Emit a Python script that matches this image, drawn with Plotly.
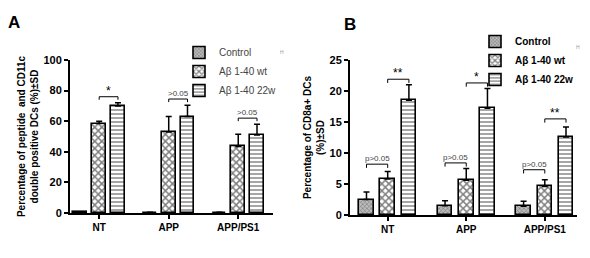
import plotly.graph_objects as go

groups = ["NT", "APP", "APP/PS1"]
series = ["Control", "Aβ 1-40 wt", "Aβ 1-40 22w"]

# Panel A: percentage of peptide and CD11c double positive DCs
a_vals = {
    "Control": [0.5, 0.3, 0.3],
    "Aβ 1-40 wt": [58.5, 53.0, 43.5],
    "Aβ 1-40 22w": [70.0, 63.0, 51.0],
}
a_err = {
    "Control": [0.3, 0.2, 0.2],
    "Aβ 1-40 wt": [1.5, 10.0, 8.0],
    "Aβ 1-40 22w": [2.0, 7.5, 7.0],
}
# Panel B: percentage of CD8a+ DCs
b_vals = {
    "Control": [2.5, 1.5, 1.4],
    "Aβ 1-40 wt": [5.8, 5.6, 4.6],
    "Aβ 1-40 22w": [18.5, 17.2, 12.6],
}
b_err = {
    "Control": [1.2, 0.8, 0.8],
    "Aβ 1-40 wt": [1.2, 1.9, 1.1],
    "Aβ 1-40 22w": [2.5, 3.2, 1.6],
}
# significance brackets: (panel, group index, bar i, bar j, bracket y, label)
brackets = [
    ("A", 0, 1, 2, 76, "*"),
    ("A", 1, 1, 2, 74.5, ">0.05"),
    ("A", 2, 1, 2, 62, ">0.05"),
    ("B", 0, 1, 2, 21.9, "**"),
    ("B", 0, 0, 1, 8.2, "p>0.05"),
    ("B", 1, 1, 2, 21.3, "*"),
    ("B", 1, 0, 1, 8.4, "p>0.05"),
    ("B", 2, 1, 2, 15.5, "**"),
    ("B", 2, 0, 1, 7.3, "p>0.05"),
]

FONT = "Arial, Liberation Sans, sans-serif"
W, H = 590, 258
offsets = [-0.27, 0.0, 0.27]
patterns = {
    "Control": dict(shape="x", size=3, solidity=0.35, fgcolor="#333333", bgcolor="#bbbbbb"),
    "Aβ 1-40 wt": dict(shape="x", size=5, solidity=0.5, fgcolor="black", bgcolor="white"),
    "Aβ 1-40 22w": dict(shape="-", size=4, solidity=0.35, fgcolor="black", bgcolor="white"),
}

fig = go.Figure()

def add_panel(vals, errs, xa, ya, legend, width):
    for k, s in enumerate(series):
        fig.add_trace(go.Bar(
            x=[g + offsets[k] for g in range(len(groups))],
            y=vals[s],
            width=width,
            name=s,
            xaxis=xa, yaxis=ya, legend=legend,
            marker=dict(color="white", line=dict(color="black", width=1.6), pattern=patterns[s]),
            error_y=dict(type="data", array=errs[s], arrayminus=[0] * len(groups), symmetric=False,
                         color="black", thickness=1.5, width=3),
        ))

add_panel(a_vals, a_err, "x", "y", "legend", 0.2)
add_panel(b_vals, b_err, "x2", "y2", "legend2", 0.185)

shapes = []
annotations = []
for panel, g, i, j, yv, label in brackets:
    xr, yr = ("x", "y") if panel == "A" else ("x2", "y2")
    drop = 2.0 if panel == "A" else 0.6
    x0 = g + offsets[i]
    x1 = g + offsets[j]
    shapes.append(dict(type="path", xref=xr, yref=yr,
                       path=f"M {x0} {yv - drop} L {x0} {yv} L {x1} {yv} L {x1} {yv - drop}",
                       line=dict(color="black", width=1)))
    small = label.startswith(">") or label.startswith("p")
    annotations.append(dict(x=(x0 + x1) / 2, y=yv, xref=xr, yref=yr, text=label, showarrow=False,
                            yanchor="bottom", yshift=-3 if not small else -1,
                            font=dict(family=FONT, size=8 if small else 12,
                                      color="#444" if small else "black")))

def paper_text(x, y, text, size, color="black"):
    annotations.append(dict(x=x / W, y=1 - y / H, xref="paper", yref="paper", text=text,
                            xanchor="center", yanchor="middle", showarrow=False,
                            font=dict(family=FONT, size=size, color=color)))

paper_text(14, 22, "<b>A</b>", 17)
paper_text(350, 25, "<b>B</b>", 17)
paper_text(282, 52, "H", 5, "#999")
paper_text(578, 47, "H", 5, "#999")

axis_common = dict(showline=True, linecolor="black", linewidth=2, ticks="outside", tickcolor="black",
                   tickwidth=1.5, ticklen=4, showgrid=False, zeroline=False, automargin=False,
                   tickfont=dict(family=FONT, size=11, color="black"))
xfont = dict(family=FONT, size=10, color="black")

fig.update_layout(
    width=W, height=H, margin=dict(l=0, r=0, t=0, b=0, autoexpand=False),
    paper_bgcolor="white", plot_bgcolor="white",
    showlegend=True, bargap=0,
    shapes=shapes, annotations=annotations,
    xaxis=dict(domain=[70 / W, 273 / W], range=[-0.42, 2.5], tickvals=[0, 1, 2],
               ticktext=[f"<b>{g}</b>" for g in groups], anchor="y", **{**axis_common, "tickfont": xfont}),
    yaxis=dict(domain=[45 / H, 198 / H], range=[0, 100], tickvals=[0, 20, 40, 60, 80, 100],
               ticktext=[f"<b>{v}</b>" for v in [0, 20, 40, 60, 80, 100]], anchor="x",
               title=dict(text="<b>Percentage of peptide  and CD11c<br>double positive DCs (%)±SD</b>",
                          font=dict(family=FONT, size=10, color="black"), standoff=3), **axis_common),
    xaxis2=dict(domain=[350 / W, 577 / W], range=[-0.48, 2.41], tickvals=[0, 1, 2],
                ticktext=[f"<b>{g}</b>" for g in groups], anchor="y2", **{**axis_common, "tickfont": xfont}),
    yaxis2=dict(domain=[43 / H, 198 / H], range=[0, 25], tickvals=[0, 5, 10, 15, 20, 25],
                ticktext=[f"<b>{v}</b>" for v in [0, 5, 10, 15, 20, 25]], anchor="x2",
                title=dict(text="<b>Percentage of CD8a+ DCs<br>(%)±SD</b>",
                           font=dict(family=FONT, size=10, color="black"), standoff=3), **axis_common),
    legend=dict(x=179 / W, y=1 - 38 / H, xanchor="left", yanchor="top", bgcolor="rgba(0,0,0,0)",
                font=dict(family=FONT, size=10, color="#444"), tracegroupgap=0),
    legend2=dict(x=475 / W, y=1 - 27 / H, xanchor="left", yanchor="top", bgcolor="rgba(0,0,0,0)",
                 font=dict(family=FONT, size=10, color="black", weight="bold"), tracegroupgap=0),
)

fig.write_html("out.html", config={"displayModeBar": False},
               post_script="document.body.style.margin='0px';")
